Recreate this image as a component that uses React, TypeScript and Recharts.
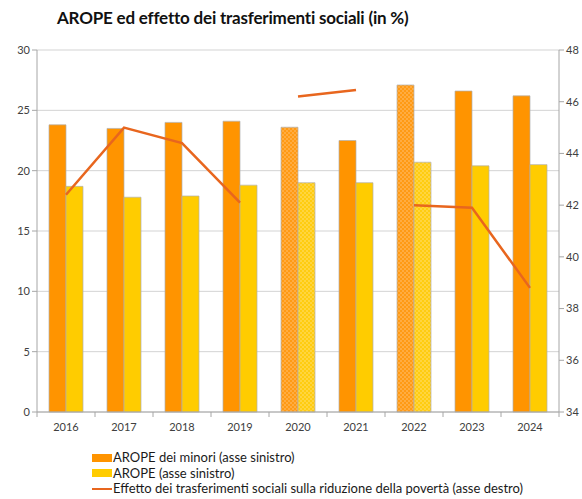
import {
  ComposedChart,
  Bar,
  Line,
  Cell,
  XAxis,
  YAxis,
  CartesianGrid,
} from 'recharts'

const years = ['2016', '2017', '2018', '2019', '2020', '2021', '2022', '2023', '2024']
const aropeMinori = [23.8, 23.5, 24.0, 24.1, 23.6, 22.5, 27.1, 26.6, 26.2]
const arope = [18.7, 17.8, 17.9, 18.8, 19.0, 19.0, 20.7, 20.4, 20.5]
// the line is broken into three pieces in the source
const effetto = [42.4, 45.0, 44.4, 42.1, 46.2, 46.45, 42.0, 41.9, 38.8]
const segmentOf = [0, 0, 0, 0, 1, 1, 2, 2, 2]
const patternYears = ['2020', '2022']
const leftTicks = [0, 5, 10, 15, 20, 25, 30]
const rightTicks = [34, 36, 38, 40, 42, 44, 46, 48]

const W = 582
const H = 499
const LEFT_W = 37
const RIGHT_W = 23
const BAND = (W - LEFT_W - RIGHT_W) / years.length

const ORANGE = '#FF9400'
const YELLOW = '#FFCC00'
const LINE = '#E8661E'
const FONT = 'Lato, "Open Sans", sans-serif'

const data = years.map((y, i) => ({
  year: y,
  minori: aropeMinori[i],
  arope: arope[i],
  seg0: segmentOf[i] === 0 ? effetto[i] : null,
  seg1: segmentOf[i] === 1 ? effetto[i] : null,
  seg2: segmentOf[i] === 2 ? effetto[i] : null,
}))

function XTick(props: any) {
  const { x, y, payload, index } = props
  const left = x - BAND / 2
  return (
    <g>
      <line x1={left} x2={left} y1={y - 8} y2={y - 3} stroke="#a6a6a6" />
      {index === years.length - 1 && (
        <line x1={x + BAND / 2} x2={x + BAND / 2} y1={y - 8} y2={y - 3} stroke="#a6a6a6" />
      )}
      <text x={x} y={y + 11} textAnchor="middle" fill="#404040" fontSize={11} fontFamily={FONT}>
        {payload.value}
      </text>
    </g>
  )
}

function LegendRow({ kind, color, label }: { kind: 'box' | 'line'; color: string; label: string }) {
  return (
    <div style={{ display: 'flex', alignItems: 'center', height: 15.5 }}>
      {kind === 'box' ? (
        <span style={{ width: 20, height: 8, background: color, display: 'inline-block' }} />
      ) : (
        <span style={{ width: 20, height: 2, background: color, display: 'inline-block' }} />
      )}
      <span style={{ marginLeft: 1 }}>{label}</span>
    </div>
  )
}

export default function App() {
  return (
    <div style={{ position: 'absolute', left: 0, top: 0, width: W, height: H, background: '#fff', fontFamily: FONT }}>
      <svg width={0} height={0} style={{ position: 'absolute' }}>
        <defs>
          <pattern id="dotOrange" width="4" height="4" patternUnits="userSpaceOnUse">
            <rect width="4" height="4" fill="#FF9A14" />
            <circle cx="1" cy="1" r="0.8" fill="#FFC47A" />
            <circle cx="3" cy="3" r="0.8" fill="#FFC47A" />
          </pattern>
          <pattern id="dotYellow" width="4" height="4" patternUnits="userSpaceOnUse">
            <rect width="4" height="4" fill="#FFCC10" />
            <circle cx="1" cy="1" r="0.8" fill="#FFE27A" />
            <circle cx="3" cy="3" r="0.8" fill="#FFE27A" />
          </pattern>
        </defs>
      </svg>
      <div
        style={{
          position: 'absolute',
          left: 57,
          top: 7,
          fontSize: 17,
          fontWeight: 700,
          letterSpacing: -0.2,
          color: '#111',
          whiteSpace: 'nowrap',
        }}
      >
        AROPE ed effetto dei trasferimenti sociali (in %)
      </div>
      <ComposedChart
        width={W}
        height={440}
        data={data}
        margin={{ top: 50, right: 0, left: 0, bottom: 0 }}
        barSize={17}
        barGap={0}
      >
        <CartesianGrid vertical={false} stroke="#d3d3d3" yAxisId="left" />
        <XAxis
          dataKey="year"
          axisLine={{ stroke: '#a6a6a6' }}
          tickLine={false}
          tick={<XTick />}
          height={28}
          interval={0}
        />
        <YAxis
          yAxisId="left"
          domain={[0, 30]}
          ticks={leftTicks}
          width={LEFT_W}
          axisLine={{ stroke: '#a6a6a6' }}
          tickLine={{ stroke: '#a6a6a6' }}
          tickSize={5}
          tick={{ fill: '#404040', fontSize: 11, fontFamily: FONT }}
        />
        <YAxis
          yAxisId="right"
          orientation="right"
          domain={[34, 48]}
          ticks={rightTicks}
          width={RIGHT_W}
          axisLine={{ stroke: '#a6a6a6' }}
          tickLine={{ stroke: '#a6a6a6' }}
          tickSize={5}
          tickMargin={2}
          tick={{ fill: '#404040', fontSize: 11, fontFamily: FONT }}
        />
        <Bar yAxisId="left" dataKey="minori" fill={ORANGE} stroke="#b0b0b0" strokeWidth={0.7} isAnimationActive={false}>
          {data.map((d) => (
            <Cell key={d.year} fill={patternYears.includes(d.year) ? 'url(#dotOrange)' : ORANGE} />
          ))}
        </Bar>
        <Bar yAxisId="left" dataKey="arope" fill={YELLOW} stroke="#b0b0b0" strokeWidth={0.7} isAnimationActive={false}>
          {data.map((d) => (
            <Cell key={d.year} fill={patternYears.includes(d.year) ? 'url(#dotYellow)' : YELLOW} />
          ))}
        </Bar>
        {['seg0', 'seg1', 'seg2'].map((k) => (
          <Line
            key={k}
            yAxisId="right"
            type="linear"
            dataKey={k}
            stroke={LINE}
            strokeWidth={2.5}
            dot={false}
            activeDot={false}
            connectNulls={false}
            isAnimationActive={false}
          />
        ))}
      </ComposedChart>
      <div style={{ position: 'absolute', left: 92, top: 450, fontSize: 13, color: '#1a1a1a', lineHeight: 1 }}>
        <LegendRow kind="box" color={ORANGE} label="AROPE dei minori (asse sinistro)" />
        <LegendRow kind="box" color={YELLOW} label="AROPE (asse sinistro)" />
        <LegendRow kind="line" color={LINE} label="Effetto dei trasferimenti sociali sulla riduzione della povertà (asse destro)" />
      </div>
    </div>
  )
}
